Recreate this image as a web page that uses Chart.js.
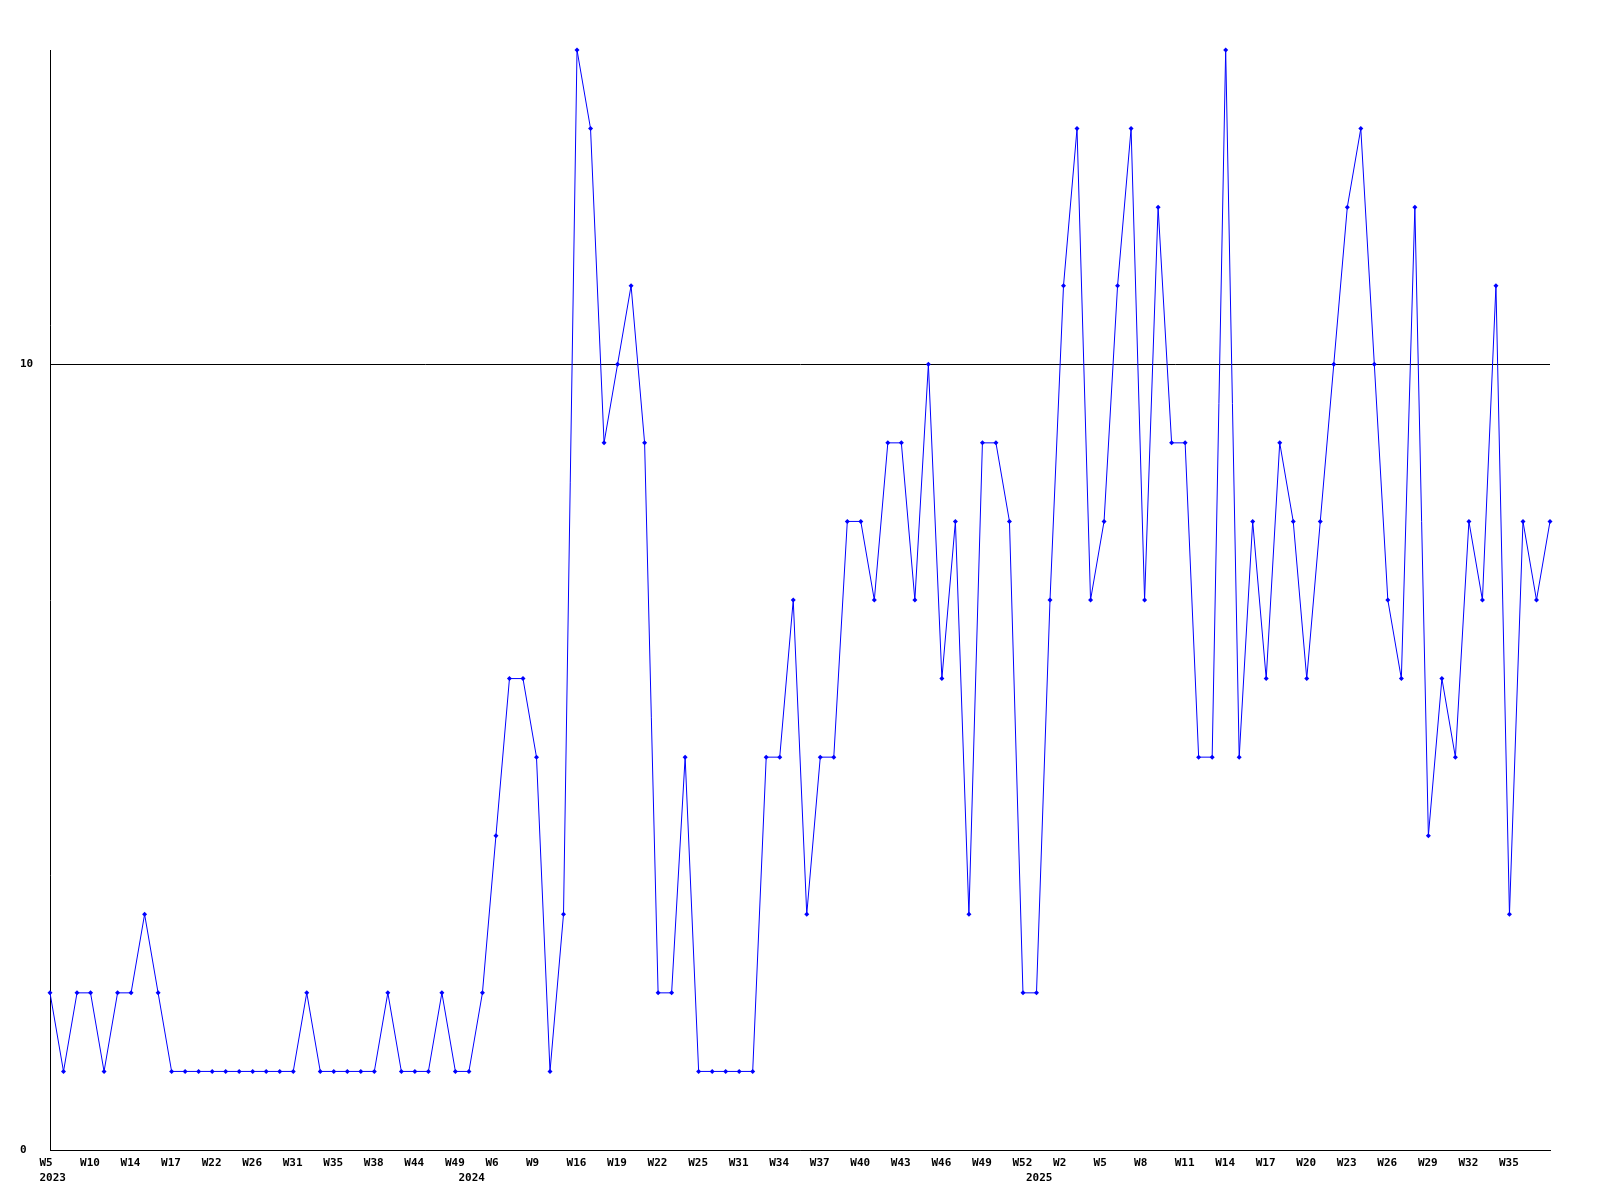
<!DOCTYPE html>
<html>
<head>
<meta charset="utf-8">
<script src="https://cdn.jsdelivr.net/npm/chart.js@4/dist/chart.umd.min.js"></script>
<style>
    html, body { margin: 0; padding: 0; background: #fff; }
    canvas { display: block; }
</style>
</head>
<body>
<canvas id="weekChart" width="1600" height="1200"></canvas>
<script>
// week number of each point (only every third one is printed on the axis)
const weeks = [
    'W5', 'W6', 'W8', 'W10', 'W11', 'W12', 'W14', 'W15', 'W16', 'W17', 'W19', 'W20',
    'W22', 'W23', 'W24', 'W26', 'W28', 'W30', 'W31', 'W32', 'W34', 'W35', 'W36', 'W37',
    'W38', 'W40', 'W42', 'W44', 'W46', 'W47', 'W49',
    'W1', 'W3', 'W6', 'W7', 'W8', 'W9', 'W12', 'W14', 'W16', 'W17', 'W18', 'W19',
    'W20', 'W21', 'W22', 'W23', 'W24', 'W25', 'W27', 'W29', 'W31', 'W32', 'W33', 'W34',
    'W35', 'W36', 'W37', 'W38', 'W39', 'W40', 'W41', 'W42', 'W43', 'W44', 'W45', 'W46',
    'W47', 'W48', 'W49', 'W50', 'W51', 'W52',
    'W0', 'W1', 'W2', 'W3', 'W4', 'W5', 'W6', 'W7', 'W8', 'W9', 'W10', 'W11', 'W12',
    'W13', 'W14', 'W15', 'W16', 'W17', 'W18', 'W19', 'W20', 'W21', 'W22', 'W23', 'W24',
    'W25', 'W26', 'W27', 'W28', 'W29', 'W30', 'W31', 'W32', 'W33', 'W34', 'W35', 'W36',
    'W37', 'W38'
];
const yearStart = [0, 31, 73];
const yearNames = ['2023', '2024', '2025'];

const counts = [
    2, 1, 2, 2, 1, 2, 2, 3, 2, 1, 1, 1, 1, 1, 1, 1, 1, 1, 1, 2, 1, 1, 1, 1,
    1, 2, 1, 1, 1, 2, 1, 1, 2, 4, 6, 6, 5, 1, 3, 14, 13, 9, 10, 11, 9, 2, 2, 5,
    1, 1, 1, 1, 1, 5, 5, 7, 3, 5, 5, 8, 8, 7, 9, 9, 7, 10, 6, 8, 3, 9, 9, 8,
    2, 2, 7, 11, 13, 7, 8, 11, 13, 7, 12, 9, 9, 5, 5, 14, 5, 8, 6, 9, 8, 6,
    8, 10, 12, 13, 10, 7, 6, 12, 4, 6, 5, 8, 7, 11, 3, 8, 7, 8
];

const yMax = 14;
const yTicks = [0, 10];

const tickFont = { family: '"DejaVu Sans Mono", monospace', size: 11, weight: 'bold', lineHeight: 1.4 };

new Chart(document.getElementById('weekChart'), {
    type: 'line',
    data: {
        labels: weeks,
        datasets: [{
            data: counts,
            borderColor: '#0000ff',
            backgroundColor: '#0000ff',
            borderWidth: 1,
            tension: 0,
            pointStyle: 'rectRot',
            pointRadius: 2.5,
            pointBorderWidth: 0,
            clip: false
        }]
    },
    options: {
        responsive: false,
        animation: false,
        layout: { padding: { left: 20, right: 50, top: 50, bottom: 0 } },
        plugins: {
            legend: { display: false },
            tooltip: { enabled: false }
        },
        scales: {
            x: {
                offset: false,
                grid: { display: false, drawTicks: false },
                border: { display: true, color: '#000', width: 1 },
                afterFit: (scale) => { scale.height = 50; },
                ticks: {
                    autoSkip: false,
                    maxRotation: 0,
                    minRotation: 0,
                    align: 'start',
                    labelOffset: -10.5,
                    padding: 5,
                    color: '#000',
                    font: tickFont,
                    callback: (value, index) => {
                        // the last point has no room for a label
                        const week = index % 3 === 0 && index < weeks.length - 3 ? weeks[index] : '';
                        const y = yearStart.indexOf(index);
                        if (y >= 0) return [week, yearNames[y]];
                        return week;
                    }
                }
            },
            y: {
                min: 0,
                max: yMax,
                grid: { color: '#000', lineWidth: 1, drawTicks: false },
                border: { display: true, color: '#000', width: 1 },
                afterFit: (scale) => { scale.width = 30; },
                afterBuildTicks: (scale) => {
                    scale.ticks = yTicks.map(v => ({ value: v }));
                },
                ticks: {
                    crossAlign: 'far',
                    color: '#000',
                    font: tickFont
                }
            }
        }
    }
});
</script>
</body>
</html>
